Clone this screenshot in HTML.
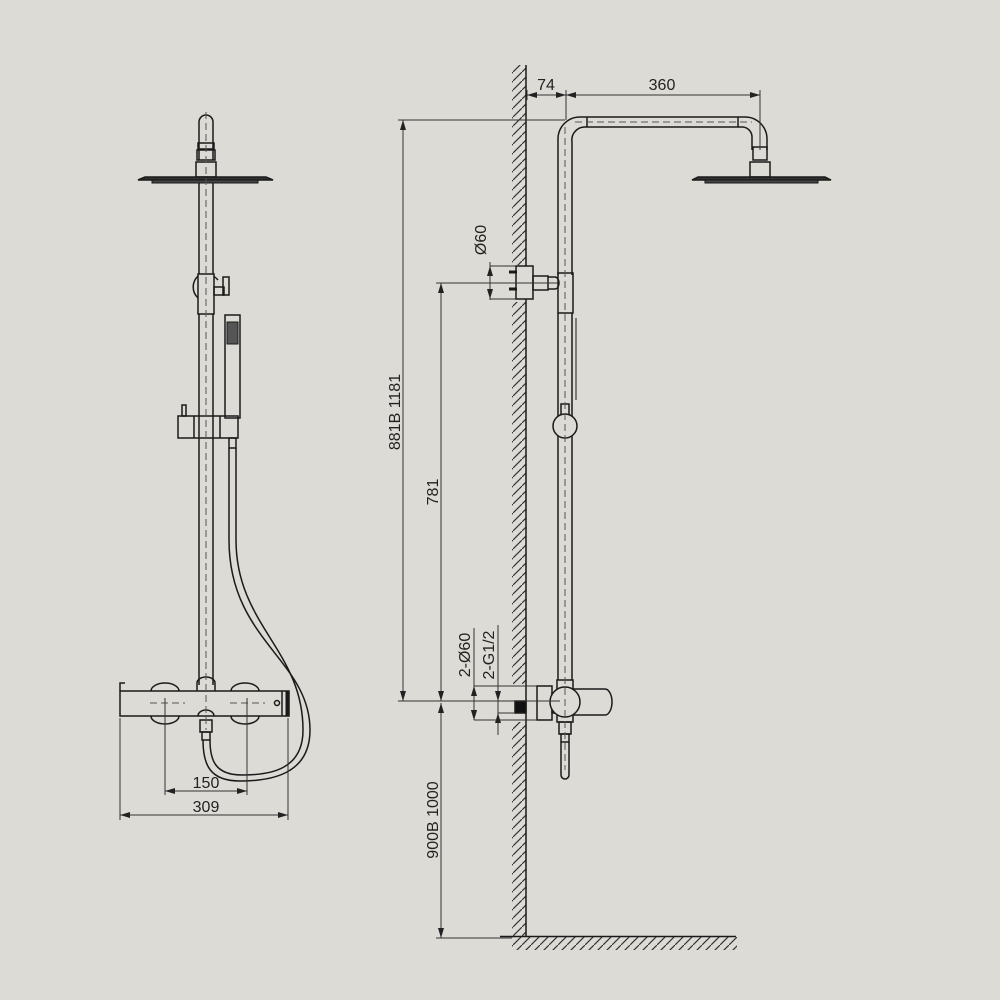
<!DOCTYPE html>
<html><head><meta charset="utf-8"><style>
html,body{margin:0;padding:0;background:#dcdbd5;}
svg{display:block;}
text{font-family:"Liberation Sans",Arial,sans-serif;font-size:16px;fill:#222;}
</style></head><body>
<svg width="1000" height="1000" viewBox="0 0 1000 1000" xmlns="http://www.w3.org/2000/svg">
<defs>
<pattern id="h" patternUnits="userSpaceOnUse" width="9" height="9">
<path d="M-1,10 L10,-1" stroke="#333" stroke-width="1.2"/>
</pattern>
<marker id="a" viewBox="0 0 10 6" refX="10" refY="3" markerWidth="10" markerHeight="6" orient="auto-start-reverse" markerUnits="userSpaceOnUse">
<path d="M0,0 L10,3 L0,6 z" fill="#222"/>
</marker>
</defs>
<rect width="1000" height="1000" fill="#dcdbd5"/>
<g fill="none" stroke="#1a1a1a" stroke-width="1.5">
<path d="M199,160 L199,122 A7,7 0 0 1 213,122 L213,160"/>
<rect x="198" y="143" width="16" height="6"/>
<rect x="197" y="150" width="18" height="10"/>
<rect x="196" y="162" width="20" height="15"/>
<path d="M138,180 L145,177 L266,177 L273,180 L138,180 Z" fill="#333"/>
<path d="M152,180 L258,180 L258,183 L152,183 Z" fill="#444" stroke-width="1"/>
<line x1="199" y1="183" x2="199" y2="685"/>
<line x1="213" y1="183" x2="213" y2="685"/>
<path d="M197,692 L197,683 A9,6 0 0 1 215,683 L215,692"/>
<path d="M198,276 A15,15 0 0 0 198,298"/>
<path d="M213,276 A15,15 0 0 1 218,280"/>
<rect x="198" y="274" width="16" height="40" fill="#dcdbd5"/>
<rect x="214" y="287" width="10" height="8"/>
<rect x="223" y="277" width="6" height="18"/>
<rect x="225" y="315" width="15" height="103"/>
<rect x="227" y="322" width="11" height="22" fill="#555" stroke-width="1"/>
<rect x="178" y="416" width="60" height="22"/>
<line x1="194" y1="416" x2="194" y2="438"/>
<line x1="220" y1="416" x2="220" y2="438"/>
<rect x="182" y="405" width="4" height="11"/>
<rect x="229" y="438" width="7" height="10"/>
<path d="M229,448 L229,540 C229,640 310,660 310,730 C310,775 270,781 240,781 C210,781 203,765 203,740"/>
<path d="M236,448 L236,540 C236,625 303,650 303,730 C303,770 270,775 242,775 C215,775 210,760 210,740"/>
<path d="M151,691 A14,8 0 0 1 179,691"/>
<path d="M151,716 A14,8 0 0 0 179,716"/>
<path d="M231,691 A14,8 0 0 1 259,691"/>
<path d="M231,716 A14,8 0 0 0 259,716"/>
<rect x="120" y="691" width="169" height="25" fill="#dcdbd5"/>
<path d="M120,691 L120,683 L125,683"/>
<line x1="282" y1="691" x2="282" y2="716"/>
<line x1="287" y1="691" x2="287" y2="716" stroke-width="3"/>
<circle cx="277" cy="703" r="2.5"/>
<path d="M198,716 A8,6 0 0 1 214,716"/>
<rect x="200" y="720" width="12" height="12"/>
<rect x="202" y="732" width="8" height="8"/>
</g>
<g stroke="#555" stroke-width="1" stroke-dasharray="7,4" fill="none">
<line x1="206" y1="112" x2="206" y2="730"/>
<line x1="150" y1="703" x2="185" y2="703"/>
<line x1="230" y1="703" x2="265" y2="703"/>
</g>
<g stroke="#333" stroke-width="1" fill="none">
<line x1="165" y1="698" x2="165" y2="795"/>
<line x1="247" y1="698" x2="247" y2="795"/>
<line x1="120" y1="718" x2="120" y2="820"/>
<line x1="288" y1="718" x2="288" y2="820"/>
<line x1="165" y1="791" x2="247" y2="791" marker-start="url(#a)" marker-end="url(#a)"/>
<line x1="120" y1="815" x2="288" y2="815" marker-start="url(#a)" marker-end="url(#a)"/>
</g>
<text x="206" y="788" text-anchor="middle">150</text>
<text x="206" y="812" text-anchor="middle">309</text>

<rect x="512" y="65" width="14" height="200" fill="url(#h)"/>
<rect x="512" y="302" width="14" height="382" fill="url(#h)"/>
<rect x="512" y="722" width="14" height="214" fill="url(#h)"/>
<rect x="512" y="937" width="225" height="13" fill="url(#h)"/>
<g stroke="#1a1a1a" stroke-width="1.5" fill="none">
<line x1="526" y1="65" x2="526" y2="937"/>
<line x1="500" y1="936.5" x2="736" y2="936.5"/>
<path d="M558,275 L558,140 A22,22 0 0 1 580,117 L745,117 A22,22 0 0 1 767,140 L767,150"/>
<path d="M572,275 L572,142 A13,13 0 0 1 585,127 L742,127 A10,10 0 0 1 752,137 L752,150"/>
<line x1="587" y1="117" x2="587" y2="127"/>
<line x1="738" y1="117" x2="738" y2="127"/>
<rect x="753" y="147" width="14" height="13"/>
<rect x="750" y="162" width="20" height="15"/>
<path d="M692,180 L698,177 L825,177 L831,180 Z" fill="#333"/>
<path d="M705,180 L818,180 L818,183 L705,183 Z" fill="#444" stroke-width="1"/>
<rect x="516" y="266" width="17" height="33" fill="#dcdbd5"/>
<rect x="533" y="276" width="15" height="14"/>
<path d="M548,277 L555,277 A4,6 0 0 1 555,289 L548,289"/>
<rect x="558" y="273" width="15" height="40"/>
<path d="M509,272 L517,272 M509,289 L517,289" stroke-width="3"/>
<line x1="558" y1="313" x2="558" y2="680"/>
<line x1="572" y1="313" x2="572" y2="680"/>
<line x1="576" y1="318" x2="576" y2="400" stroke-width="1"/>
<rect x="561" y="404" width="8" height="12"/>
<circle cx="565" cy="426" r="12" fill="#dcdbd5"/>
<rect x="537" y="686" width="15" height="34"/>
<rect x="515" y="701" width="11" height="12" fill="#111"/>
<rect x="552" y="693" width="10" height="20"/>
<rect x="557" y="680" width="16" height="42"/>
<path d="M573,689 L605,689 A7,13 0 0 1 605,715 L573,715"/>
<circle cx="565" cy="702" r="15" fill="#dcdbd5"/>
<rect x="559" y="722" width="12" height="12"/>
<rect x="561" y="734" width="8" height="8"/>
<path d="M561,742 L561,775 A4,4 0 0 0 569,775 L569,742"/>
</g>
<g stroke="#555" stroke-width="1" stroke-dasharray="7,4" fill="none">
<line x1="565" y1="127" x2="565" y2="770"/>
<line x1="575" y1="122" x2="752" y2="122"/>
</g>
<g stroke="#333" stroke-width="1" fill="none">
<line x1="527" y1="90" x2="527" y2="100"/>
<line x1="566" y1="90" x2="566" y2="120"/>
<line x1="760" y1="90" x2="760" y2="150"/>
<line x1="527" y1="95" x2="566" y2="95" marker-start="url(#a)" marker-end="url(#a)"/>
<line x1="566" y1="95" x2="760" y2="95" marker-start="url(#a)" marker-end="url(#a)"/>
<line x1="398" y1="120" x2="565" y2="120"/>
<line x1="398" y1="701" x2="560" y2="701"/>
<line x1="436" y1="283" x2="558" y2="283"/>
<line x1="436" y1="938" x2="512" y2="938"/>
<line x1="403" y1="120" x2="403" y2="701" marker-start="url(#a)" marker-end="url(#a)"/>
<line x1="441" y1="283" x2="441" y2="701" marker-start="url(#a)" marker-end="url(#a)"/>
<line x1="441" y1="703" x2="441" y2="938" marker-start="url(#a)" marker-end="url(#a)"/>
<line x1="490" y1="262" x2="490" y2="300"/>
<line x1="490" y1="266" x2="516" y2="266"/>
<line x1="490" y1="299" x2="516" y2="299"/>
<line x1="490" y1="266" x2="490" y2="299" marker-start="url(#a)" marker-end="url(#a)"/>
<line x1="474" y1="686" x2="537" y2="686"/>
<line x1="474" y1="720" x2="537" y2="720"/>
<line x1="474" y1="628" x2="474" y2="720" marker-end="url(#a)"/>
<line x1="474" y1="686" x2="474" y2="720" marker-start="url(#a)" marker-end="url(#a)"/>
<line x1="498" y1="625" x2="498" y2="735"/>
<line x1="498" y1="701" x2="515" y2="701"/>
<line x1="498" y1="713" x2="515" y2="713"/>
<line x1="498" y1="690" x2="498" y2="701" marker-end="url(#a)"/>
<line x1="498" y1="725" x2="498" y2="713" marker-end="url(#a)"/>
</g>
<text x="546" y="90" text-anchor="middle">74</text>
<text x="662" y="90" text-anchor="middle">360</text>
<text transform="translate(400,412) rotate(-90)" text-anchor="middle">881B 1181</text>
<text transform="translate(438,492) rotate(-90)" text-anchor="middle">781</text>
<text transform="translate(438,820) rotate(-90)" text-anchor="middle">900B 1000</text>
<text transform="translate(486,240) rotate(-90)" text-anchor="middle">Ø60</text>
<text transform="translate(470,655) rotate(-90)" text-anchor="middle">2-Ø60</text>
<text transform="translate(494,655) rotate(-90)" text-anchor="middle">2-G1/2</text>
</svg>
</body></html>
